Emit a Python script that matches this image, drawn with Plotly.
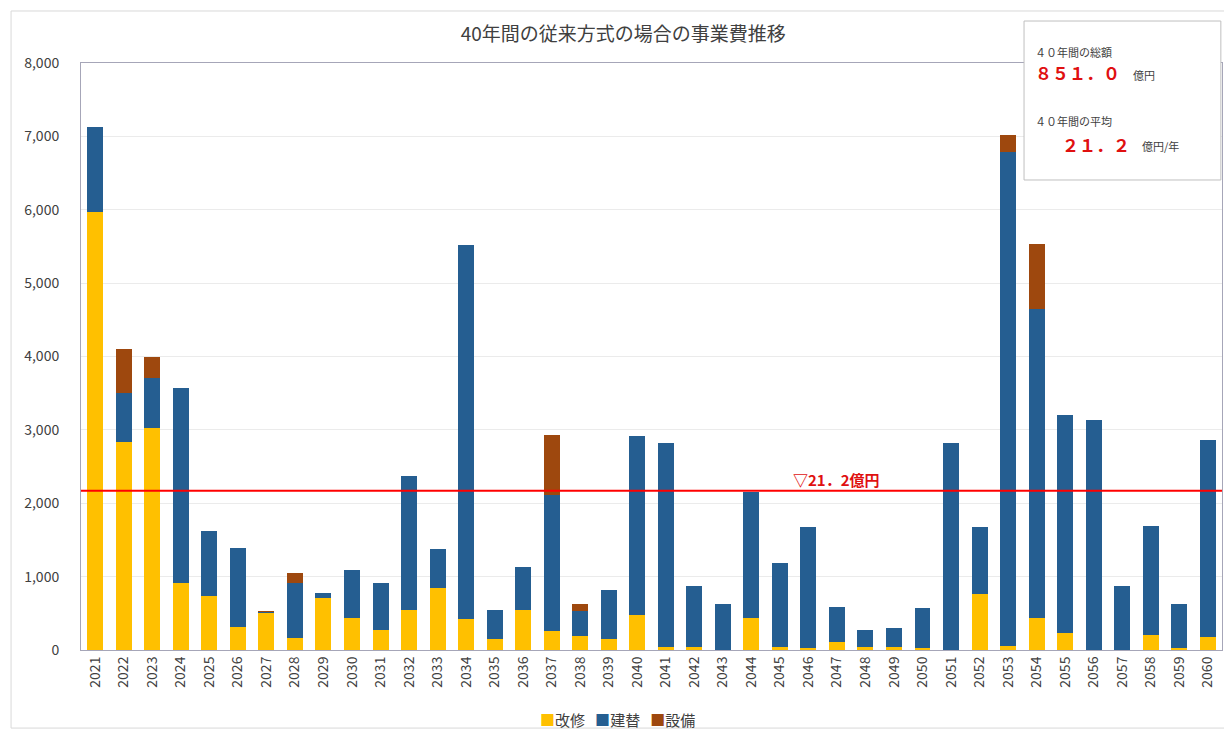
import plotly.graph_objects as go

# 年度
years = [str(y) for y in range(2021, 2061)]

# 改修 / 建替 / 設備（百万円）
kaishu = [5975, 2830, 3020, 910, 730, 320, 505, 160, 705, 430,
          275, 545, 850, 420, 150, 545, 265, 195, 150, 480,
          35, 35, 0, 430, 45, 30, 110, 35, 35, 25,
          0, 765, 60, 435, 230, 0, 0, 210, 25, 175]
kentai = [1155, 670, 690, 2660, 890, 1070, 15, 750, 77, 660,
          635, 1820, 530, 5105, 400, 590, 1850, 340, 670, 2440,
          2780, 840, 625, 1730, 1140, 1650, 475, 240, 260, 545,
          2815, 915, 6730, 4215, 2975, 3135, 875, 1485, 600, 2690]
setsubi = [0, 600, 290, 0, 0, 0, 5, 135, 0, 0,
           0, 0, 0, 0, 0, 0, 820, 90, 0, 0,
           0, 0, 0, 0, 0, 0, 0, 0, 0, 0,
           0, 0, 230, 880, 0, 0, 0, 0, 0, 0]

heikin = 2170  # 40年間の平均ライン

FONT = "Noto Sans CJK JP"
series = [
    ("改修", kaishu, "#FFC000"),
    ("建替", kentai, "#255E91"),
    ("設備", setsubi, "#9E480E"),
]

fig = go.Figure()
for name, vals, color in series:
    fig.add_trace(go.Bar(x=years, y=vals, name=name, marker_color=color,
                         marker_line_width=0))

# 平均ライン
fig.add_shape(type="line", xref="paper", yref="y", x0=0, x1=1,
              y0=heikin, y1=heikin, line=dict(color="#FF0000", width=2))
fig.add_annotation(x=years.index("2047"), y=heikin, xref="x", yref="y",
                   yanchor="bottom", text="<b>▽21．2億円</b>", showarrow=False,
                   yshift=-1, font=dict(color="#E01010", size=15, family=FONT))

# 外枠
fig.add_shape(type="rect", xref="paper", yref="paper",
              x0=-0.0613, x1=1.0035, y0=-0.133, y1=1.0886,
              line=dict(color="#D9D9D9", width=1), layer="below")

# 右上の集計ボックス
fig.add_shape(type="rect", xref="paper", yref="paper",
              x0=0.8265, x1=0.999, y0=0.8007, y1=1.0715,
              line=dict(color="#BFBFBF", width=1), fillcolor="white", layer="above")
box_txt = [
    (0.834, 1.019, "４０年間の総額", 11, "#404040"),
    (0.834, 0.983, "<b>８５１．０</b>", 17, "#E01010"),
    (0.920, 0.980, "億円", 11, "#404040"),
    (0.834, 0.901, "４０年間の平均", 11, "#404040"),
    (0.858, 0.862, "<b>２１．２</b>", 17, "#E01010"),
    (0.928, 0.859, "億円/年", 11, "#404040"),
]
for bx, by, t, s, c in box_txt:
    fig.add_annotation(x=bx, y=by, xref="paper", yref="paper", text=t,
                       showarrow=False, xanchor="left", yanchor="middle",
                       font=dict(size=s, color=c, family=FONT))

# 凡例
legend_txt = "   ".join(f"<span style='color:{c}'>■</span>{n}" for n, _, c in series)
fig.add_annotation(x=0.47, y=-0.119, xref="paper", yref="paper", text=legend_txt,
                   showarrow=False, xanchor="center", yanchor="middle",
                   font=dict(size=15, color="#404040", family=FONT))

fig.update_layout(
    width=1216, height=721,
    title=dict(text="40年間の従来方式の場合の事業費推移", x=0.506, xanchor="center",
               y=0.964, yanchor="middle",
               font=dict(size=19, color="#404040", family=FONT)),
    barmode="stack",
    bargap=0.44,
    showlegend=False,
    plot_bgcolor="white",
    paper_bgcolor="white",
    margin=dict(l=73, r=2, t=55, b=79),
    font=dict(family=FONT, color="#404040"),
    xaxis=dict(type="category", range=[-0.5, len(years) - 0.5], tickangle=-90,
               tickfont=dict(size=14, color="#404040"),
               showline=True, linecolor="#A6A6B8", mirror=True, ticks=""),
    yaxis=dict(range=[0, 8000], dtick=1000, tickformat=",",
               tickfont=dict(size=14, color="#404040"),
               gridcolor="#EBEBEB", showline=True, linecolor="#A6A6B8",
               mirror=True, zeroline=False, ticklabelstandoff=18),
)

fig.write_html("out.html")
